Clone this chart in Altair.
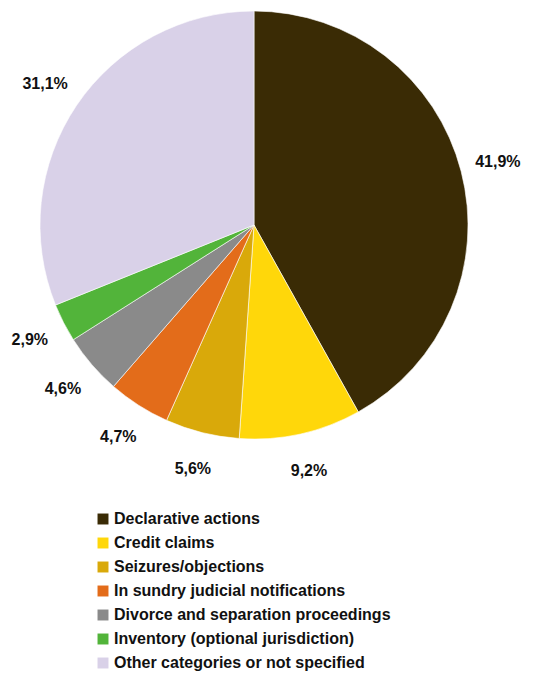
import altair as alt
import pandas as pd

categories = [
    "Declarative actions",
    "Credit claims",
    "Seizures/objections",
    "In sundry judicial notifications",
    "Divorce and separation proceedings",
    "Inventory (optional jurisdiction)",
    "Other categories or not specified",
]
values = [41.9, 9.2, 5.6, 4.7, 4.6, 2.9, 31.1]
labels = ["41,9%", "9,2%", "5,6%", "4,7%", "4,6%", "2,9%", "31,1%"]
colors = ["#3A2B05", "#FFD70A", "#D9A90A", "#E36C1A", "#8A8A8A", "#52B43A", "#D9D1E8"]

df = pd.DataFrame({"category": categories, "value": values, "label": labels,
                   "order": list(range(len(categories)))})

cx, cy = 246, 217

base = alt.Chart(df).encode(
    theta=alt.Theta("value:Q", stack=True),
    order=alt.Order("order:Q"),
)

pie = base.mark_arc(outerRadius=214, stroke="white", strokeWidth=0.6).encode(
    x=alt.value(cx), y=alt.value(cy),
    color=alt.Color(
        "category:N",
        scale=alt.Scale(domain=categories, range=colors),
        sort=categories,
        legend=alt.Legend(
            title=None, orient="none", legendX=87, legendY=503,
            symbolType="square", symbolSize=120, symbolStrokeWidth=0,
            labelFont="Liberation Sans", labelFontWeight="bold", labelFontSize=16,
            labelColor="#111111", rowPadding=8, labelOffset=3, labelLimit=400,
        ),
    ),
)

text = base.mark_text(radius=252, font="Liberation Sans", fontWeight="bold",
                      fontSize=16, color="#111111").encode(
    x=alt.value(cx), y=alt.value(cy), text="label:N"
)

chart = (pie + text).properties(
    width=523, height=665,
    autosize=alt.AutoSizeParams(type="none"), padding=0,
).configure_view(stroke=None)

chart.save("out.html", embed_options={"renderer": "svg", "actions": False})
